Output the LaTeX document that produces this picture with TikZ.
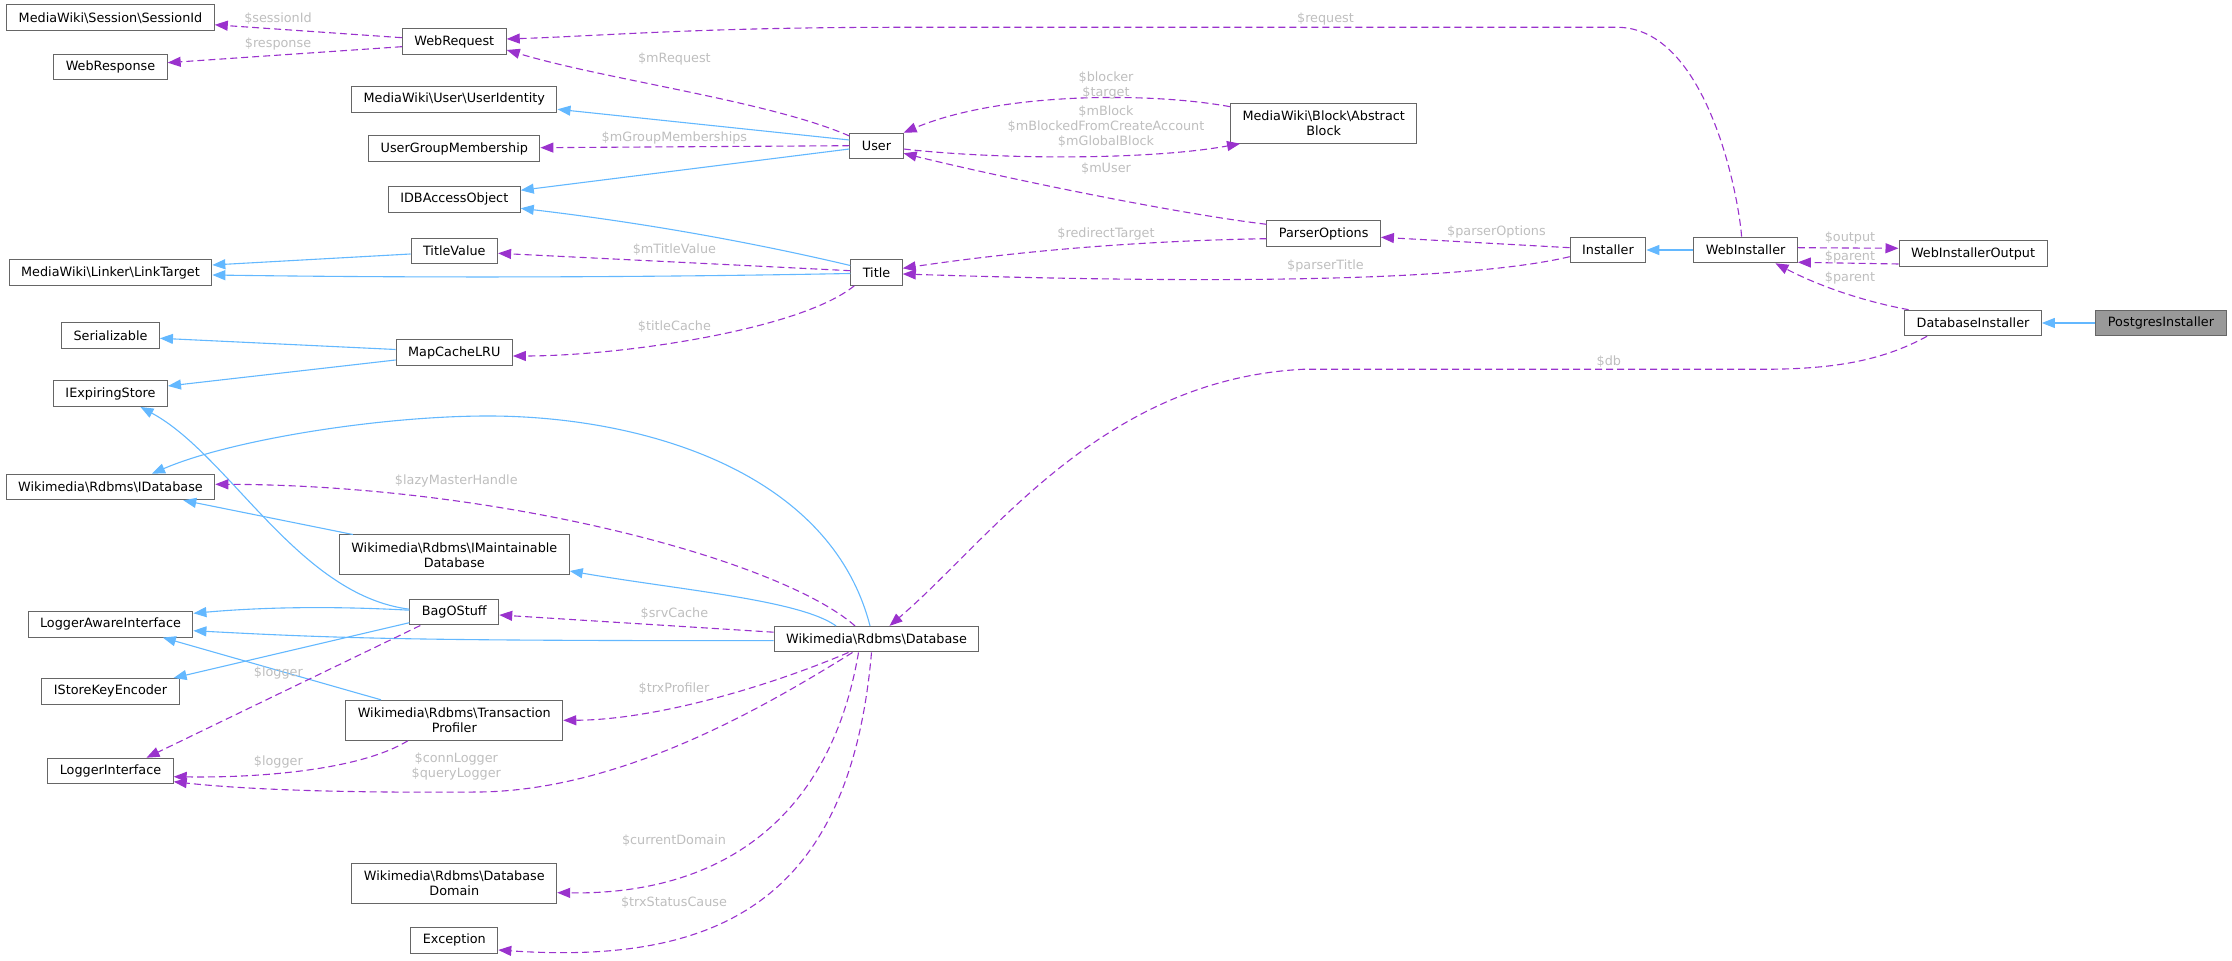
\documentclass[tikz,border=0pt]{standalone}
\usepackage{fontspec}
\setmainfont{DejaVu Sans}
\usetikzlibrary{arrows.meta, calc}
\definecolor{boxedge}{RGB}{102,102,102}
\definecolor{hilite}{RGB}{153,153,153}
\definecolor{inhblue}{RGB}{99,184,255}
\definecolor{usepurple}{RGB}{154,50,205}
\definecolor{lblgray}{RGB}{190,190,190}
\newcommand{\dxfont}{\fontsize{6.4}{7.5}\selectfont}
\newcommand{\bsl}{\textbackslash}

\begin{document}
\begin{tikzpicture}[x=0.5pt, y=-0.5pt,
  cls/.style={draw=boxedge, fill=white, line width=0.5pt, inner xsep=6pt, inner ysep=0pt, minimum height=12.8pt, font=\dxfont, align=center},
  cls2/.style={cls, minimum height=20pt},
  lbl/.style={font=\dxfont, text=lblgray, inner sep=0pt, align=center},
  inh/.style={draw=inhblue, line width=0.55pt, -{Triangle[length=6.5pt, width=5pt]}},
  mem/.style={draw=usepurple, line width=0.55pt, dash pattern=on 3.5pt off 2pt, -{Triangle[length=6.5pt, width=5pt]}}]
\useasboundingbox (0,0) rectangle (2232,961);

% left column
\node[cls] (sessionid) at (110.5,17.8) {MediaWiki\bsl Session\bsl SessionId};
\node[cls] (webresponse) at (110.5,67.2) {WebResponse};
\node[cls] (linktarget) at (110.5,272.5) {MediaWiki\bsl Linker\bsl LinkTarget};
\node[cls] (serializable) at (110.5,335.3) {Serializable};
\node[cls] (iexpiring) at (110.5,393.7) {IExpiringStore};
\node[cls] (idatabase) at (110.5,487) {Wikimedia\bsl Rdbms\bsl IDatabase};
\node[cls] (loggeraware) at (110.5,624.3) {LoggerAwareInterface};
\node[cls] (storekey) at (110.5,691.3) {IStoreKeyEncoder};
\node[cls] (loggeriface) at (110.5,771) {LoggerInterface};

% second column
\node[cls] (webrequest) at (454.3,41.7) {WebRequest};
\node[cls] (useridentity) at (454.3,99.3) {MediaWiki\bsl User\bsl UserIdentity};
\node[cls] (groupmember) at (454.3,148.5) {UserGroupMembership};
\node[cls] (dbaccess) at (454.3,199.3) {IDBAccessObject};
\node[cls] (titlevalue) at (454.3,251) {TitleValue};
\node[cls] (mapcache) at (454.3,352.5) {MapCacheLRU};
\node[cls2] (imaintain) at (454.3,555) {Wikimedia\bsl Rdbms\bsl IMaintainable\\Database};
\node[cls] (bagostuff) at (454.3,612.2) {BagOStuff};
\node[cls2] (trxprofiler) at (454.3,720.3) {Wikimedia\bsl Rdbms\bsl Transaction\\Profiler};
\node[cls2] (dbdomain) at (454.3,883) {Wikimedia\bsl Rdbms\bsl Database\\Domain};
\node[cls] (exception) at (454.3,940.3) {Exception};

% middle and right
\node[cls] (user) at (876.5,146) {User};
\node[cls] (title) at (876.5,272.5) {Title};
\node[cls] (database) at (876.5,639.2) {Wikimedia\bsl Rdbms\bsl Database};
\node[cls2] (block) at (1323.7,123.2) {MediaWiki\bsl Block\bsl Abstract\\Block};
\node[cls] (parseropts) at (1323.7,233.7) {ParserOptions};
\node[cls] (installer) at (1608,250) {Installer};
\node[cls] (webinstaller) at (1745.6,250) {WebInstaller};
\node[cls] (wioutput) at (1973,253.7) {WebInstallerOutput};
\node[cls] (dbinstaller) at (1973,323) {DatabaseInstaller};
\node[cls, fill=hilite] (postgres) at (2161,323) {PostgresInstaller};

% inheritance
\draw[inh] (postgres) -- (dbinstaller);
\draw[inh] (webinstaller) -- (installer);
\draw[inh] ($(user.west)+(0,-6)$) -- ($(useridentity.east)+(0,10)$);
\draw[inh] ($(user.west)+(0,3)$) -- ($(dbaccess.east)+(0,-9)$);
\draw[inh] ($(title.west)+(0,-7)$) .. controls +(-110,-26) and +(110,13) .. ($(dbaccess.east)+(0,9)$);
\draw[inh] ($(title.west)+(0,1)$) .. controls +(-210,4) and +(210,3) .. ($(linktarget.east)+(0,2.5)$);
\draw[inh] ($(titlevalue.west)+(0,3)$) -- ($(linktarget.east)+(0,-7.5)$);
\draw[inh] ($(mapcache.west)+(0,-3)$) -- ($(serializable.east)+(0,3)$);
\draw[inh] ($(mapcache.west)+(0,7.5)$) -- ($(iexpiring.east)+(0,-7.7)$);
\draw[inh] ($(bagostuff.west)+(0,-3)$) .. controls +(-111,-14) and +(89,48) .. ($(iexpiring.south)+(30,0)$);
\draw[inh] ($(bagostuff.west)+(0,-2)$) .. controls +(-73,-4) and +(73,-6.5) .. ($(loggeraware.east)+(0,-11)$);
\draw[inh] ($(bagostuff.west)+(0,10.5)$) -- ($(storekey.north east)+(-6,0)$);
\draw[inh] ($(trxprofiler.north west)+(35.6,0)$) -- ($(loggeraware.south east)+(-30.6,0)$);
\draw[inh] ($(database.north)+(-6.5,0)$) .. controls (830,470) and (640,416) .. (488,416)
  .. controls (380,416) and (230,440) .. ($(idatabase.north)+(41.5,0)$);
\draw[inh] ($(database.north)+(-40.5,0)$) .. controls (800,600) and (680,590) .. ($(imaintain.east)+(0,16)$);
\draw[inh] ($(database.west)+(0,1.5)$) .. controls +(-350,0) and +(150,8) .. ($(loggeraware.east)+(0,6.4)$);
\draw[inh] ($(imaintain.north west)+(14,0)$) -- ($(idatabase.south east)+(-32,0)$);

% members
\draw[mem] ($(webrequest.west)+(0,-4)$) -- ($(sessionid.east)+(0,7)$);
\node[lbl] (l-sessionid) at (278,18.3) {\$sessionId};
\draw[mem] ($(webrequest.west)+(0,5)$) -- ($(webresponse.east)+(0,-4.5)$);
\node[lbl] (l-response) at (278,44.3) {\$response};
\draw[mem] ($(user.west)+(0,-10)$) .. controls +(-80,-35) and +(100,30) .. ($(webrequest.east)+(0,8.3)$);
\node[lbl] (l-mrequest) at (674.4,58.7) {\$mRequest};
\draw[mem] ($(user.west)+(0,-0.3)$) -- ($(groupmember.east)+(0,-0.8)$);
\node[lbl] (l-groups) at (674.4,138.3) {\$mGroupMemberships};
\draw[mem] ($(block.north west)+(0,4)$) .. controls (1150,92) and (1000,92) .. (user.north east);
\node[lbl] (l-blocker) at (1106,85) {\$blocker\\\$target};
\draw[mem] ($(user.east)+(0,3)$) .. controls (1000,160) and (1150,160) .. ($(block.south west)+(10,0)$);
\node[lbl] (l-mblock) at (1106,127) {\$mBlock\\\$mBlockedFromCreateAccount\\\$mGlobalBlock};
\draw[mem] ($(parseropts.west)+(0,-9.4)$) .. controls +(-100,-12) and +(80,20) .. ($(user.east)+(0,7.3)$);
\node[lbl] (l-muser) at (1106,168.3) {\$mUser};
\draw[mem] ($(parseropts.west)+(0,5)$) .. controls +(-121,2) and +(121,-18) .. ($(title.east)+(0,-4.2)$);
\node[lbl] (l-redirect) at (1106,234.3) {\$redirectTarget};
\draw[mem] ($(installer.west)+(0,-2.3)$) -- ($(parseropts.east)+(0,3.6)$);
\node[lbl] (l-parseropts) at (1496.4,232.3) {\$parserOptions};
\draw[mem] ($(installer.west)+(0,6.7)$) .. controls (1450,285) and (1150,282) .. ($(title.east)+(0,1.5)$);
\node[lbl] (l-parsertitle) at (1325.5,265.7) {\$parserTitle};
\draw[mem] ($(webinstaller.north)+(-4,0)$) .. controls (1738,190) and (1705,27.3) .. (1617,27.3)
  -- (900,27.3) .. controls (700,27.3) and (600,36) .. ($(webrequest.east)+(0,-2.7)$);
\node[lbl] (l-request) at (1325.5,19) {\$request};
\draw[mem] ($(webinstaller.east)+(0,-2.3)$) -- ($(wioutput.west)+(0,-5.4)$);
\node[lbl] (l-output) at (1850,237.7) {\$output};
\draw[mem] ($(wioutput.west)+(0,10.3)$) -- ($(webinstaller.east)+(0,12.3)$);
\node[lbl] (l-parent1) at (1850,256.7) {\$parent};
\draw[mem] ($(dbinstaller.north west)+(4.5,0)$) .. controls +(-44,-8) and +(44,23) .. ($(webinstaller.south)+(29.8,0)$);
\node[lbl] (l-parent2) at (1850,277.7) {\$parent};
\draw[mem] ($(dbinstaller.south)+(-46,0)$) .. controls (1880,362) and (1830,369.3) .. (1761,369.3)
  -- (1302.7,369.3) .. controls (1100,380) and (990,540) .. ($(database.north)+(13,0)$);
\node[lbl] (l-db) at (1608.8,361.7) {\$db};
\draw[mem] ($(title.south west)+(4,0)$) .. controls (800,330) and (620,356) .. ($(mapcache.east)+(0,3.5)$);
\node[lbl] (l-titlecache) at (674.4,326.7) {\$titleCache};
\draw[mem] ($(title.west)+(0,-1.8)$) -- ($(titlevalue.east)+(0,2.3)$);
\node[lbl] (l-titlevalue) at (674.4,249.3) {\$mTitleValue};
\draw[mem] ($(database.north)+(-21.5,0)$) .. controls (780,560) and (500,485) .. ($(idatabase.east)+(0,-2.7)$);
\node[lbl] (l-lazy) at (456.3,481) {\$lazyMasterHandle};
\draw[mem] ($(database.west)+(0,-7)$) -- ($(bagostuff.east)+(0,2.8)$);
\node[lbl] (l-srvcache) at (674.4,613.3) {\$srvCache};
\draw[mem] ($(bagostuff.south west)+(11,0)$) -- ($(loggeriface.north)+(36,0)$);
\node[lbl] (l-logger1) at (278.4,672.7) {\$logger};
\draw[mem] ($(trxprofiler.south west)+(62.5,0)$) .. controls (360,770) and (260,778) .. ($(loggeriface.east)+(0,5.7)$);
\node[lbl] (l-logger2) at (278.4,761.7) {\$logger};
\draw[mem] ($(database.south)+(-28,0)$) .. controls (760,690) and (650,720) .. (trxprofiler.east);
\node[lbl] (l-trxprofiler) at (674,688.3) {\$trxProfiler};
\draw[mem] ($(database.south)+(-24,0)$) .. controls (760,710) and (620,790) .. (480,792)
  .. controls (350,793) and (250,790) .. ($(loggeriface.east)+(0,10.7)$);
\node[lbl] (l-connlogger) at (456.3,766.5) {\$connLogger\\\$queryLogger};
\draw[mem] ($(database.south)+(-18,0)$) .. controls (830,820) and (720,895) .. ($(dbdomain.east)+(0,9.7)$);
\node[lbl] (l-domain) at (674,840.7) {\$currentDomain};
\draw[mem] ($(database.south)+(-5,0)$) .. controls (850,900) and (720,965) .. ($(exception.east)+(0,9.7)$);
\node[lbl] (l-status) at (674,902.7) {\$trxStatusCause};
\end{tikzpicture}
\end{document}
